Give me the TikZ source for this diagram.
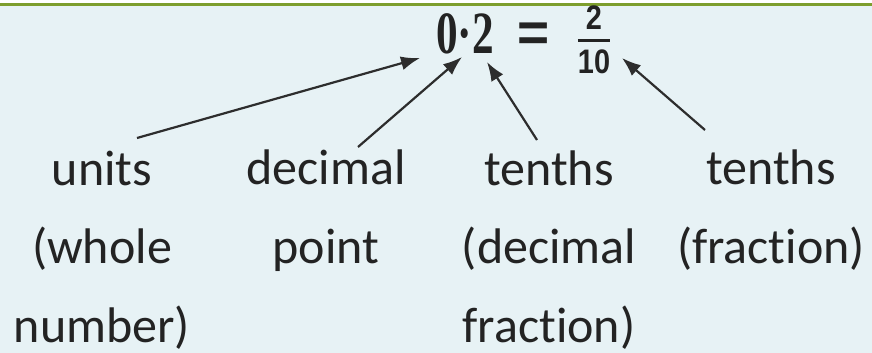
\documentclass[tikz,border=0pt]{standalone}
\usepackage{fontspec}
\usepackage{amsmath}
\setmainfont{Carlito}[Ligatures={NoCommon,NoContextual}, Contextuals=NoAlternate]
\newfontfamily\decfont{Liberation Serif}
\newfontfamily\fracfont{Liberation Sans}
\usetikzlibrary{arrows.meta, positioning, calc}
\definecolor{panelbg}{RGB}{231, 242, 245}
\definecolor{rulegreen}{RGB}{125, 158, 45}
\definecolor{inkgrey}{RGB}{35, 35, 35}
\definecolor{arrowgrey}{RGB}{45, 45, 45}

\begin{document}
\begin{tikzpicture}[
  x=1pt, y=-1pt,
  lbl/.style={align=center, inner sep=0pt, anchor=base, text=inkgrey, font=\fontsize{50}{78.5}\selectfont},
  numtxt/.style={inner sep=0pt, text=inkgrey},
  arr/.style={-{Latex[length=19pt, width=14pt]}, line width=2.2pt, draw=arrowgrey}
]

  % panel and top rule
  \fill[panelbg] (0,0) rectangle (872,353);
  \fill[white] (0,0) rectangle (872,3);
  \fill[rulegreen] (0,3) rectangle (872,6.5);
  \useasboundingbox (0,0) rectangle (872,353);

  % number sentence
  \node[numtxt, anchor=base] (dec) at (465,53) {\decfont\bfseries\fontsize{60}{60}\selectfont\scalebox{0.72}[1]{0·2}};
  \node[numtxt] (eq) at (534,37) {\fracfont\bfseries\fontsize{55}{55}\selectfont =};
  \node[numtxt] (frac) at (594,40) {\fracfont\bfseries\fontsize{34}{34}\selectfont
    \scalebox{0.85}[1]{$\genfrac{}{}{2.8pt}{0}{\text{2}}{\text{10}}$}};

  % labels (base = last line)
  \node[lbl] (units) at (102,342) {units\\(whole\\number)};
  \node[lbl] (point) at (326,263) {decimal\\point};
  \node[lbl] (tenthsdec) at (549,342) {tenths\\(decimal\\fraction)};
  \node[lbl] (tenthsfrac) at (771,263) {tenths\\(fraction)};

  \draw[arr] ($(units.base)+(35,-204)$) -- ($(dec.base)+(-45,5)$);
  \draw[arr] ($(point.base)+(32,-116)$) -- ($(dec.base)+(-3,4)$);
  \draw[arr] ($(tenthsdec.base)+(-12,-202)$) -- ($(dec.base)+(22,9)$);
  \draw[arr] ($(tenthsfrac.base)+(-66,-133)$) -- ($(frac.center)+(28,18)$);

\end{tikzpicture}
\end{document}
